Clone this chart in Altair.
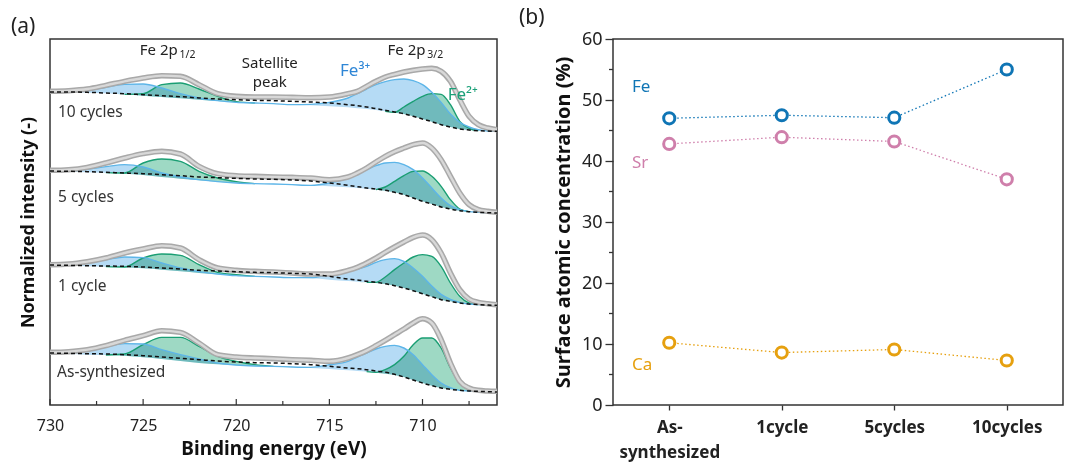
import altair as alt
import pandas as pd

# ---------------- Panel (a): Fe 2p XPS spectra ----------------
ENERGY = [730, 729, 728, 727, 726, 725, 724, 723, 722, 721, 720, 719, 718, 717, 716, 715, 714,
          713.5, 713, 712.5, 712, 711.5, 711, 710.5, 710, 709.5, 709, 708.5, 708, 707.5, 707, 706.5, 706]
SPECTRA = ["10 cycles", "5 cycles", "1 cycle", "As-synthesized"]
OFFSET = [821, 576, 299, 39]  # vertical stacking offset (a.u.)

ENVELOPE = [
    [120, 122, 127, 138, 150, 160, 167, 165, 140, 113, 105, 103, 103, 102, 101, 103, 113,
     120, 135, 150, 163, 171, 178, 183, 187, 189, 180, 150, 95, 45, 20, 10, 5],
    [128, 130, 137, 150, 165, 178, 185, 177, 140, 118, 112, 110, 108, 107, 105, 100, 108,
     120, 135, 153, 170, 184, 195, 205, 210, 195, 160, 110, 60, 25, 10, 5, 2],
    [122, 124, 131, 142, 157, 169, 179, 172, 137, 112, 105, 102, 100, 97, 94, 94, 105,
     114, 127, 142, 159, 175, 190, 204, 211, 197, 157, 97, 47, 19, 9, 5, 2],
    [119, 121, 127, 139, 155, 169, 184, 179, 147, 112, 105, 102, 100, 97, 95, 92, 102,
     112, 124, 139, 155, 172, 189, 207, 220, 207, 157, 87, 32, 12, 5, 3, 2],
]
BACKGROUND = [
    [118, 118, 117, 115, 113, 110, 107, 104, 100, 97, 95, 93, 92, 90, 88, 85, 80,
     77, 73, 68, 63, 58, 53, 45, 37, 29, 20, 13, 7, 4, 2, 1, 0],
    [126, 125, 124, 122, 120, 118, 115, 112, 108, 106, 104, 102, 101, 99, 96, 90, 83,
     79, 75, 72, 68, 62, 55, 45, 35, 27, 18, 12, 7, 4, 2, 1, 0],
    [121, 120, 119, 118, 117, 115, 112, 109, 105, 103, 101, 99, 98, 96, 94, 87, 79,
     76, 72, 69, 65, 59, 52, 44, 35, 26, 17, 12, 7, 4, 2, 1, 0],
    [117, 116, 115, 114, 112, 109, 105, 101, 97, 93, 90, 88, 87, 85, 82, 77, 72,
     70, 67, 63, 59, 53, 45, 36, 27, 19, 12, 8, 5, 3, 2, 1, 0],
]
BASELINE = [
    [117, 117, 116, 114, 111, 107, 103, 99, 95, 91, 87, 85, 83, 80, 78, 75, 72,
     69, 67, 64, 60, 56, 52, 45, 37, 29, 20, 13, 7, 4, 2, 1, 0],
    [125, 124, 122, 121, 118, 114, 108, 103, 98, 94, 90, 88, 87, 85, 83, 80, 77,
     75, 73, 70, 67, 62, 55, 45, 35, 27, 18, 12, 7, 4, 2, 1, 0],
    [120, 119, 117, 116, 114, 111, 107, 102, 97, 93, 89, 87, 85, 83, 81, 77, 73,
     71, 69, 67, 64, 59, 52, 44, 35, 26, 17, 12, 7, 4, 2, 1, 0],
    [115, 114, 112, 111, 109, 104, 99, 93, 87, 83, 80, 78, 77, 75, 72, 69, 65,
     63, 61, 58, 55, 51, 45, 36, 27, 19, 12, 8, 5, 3, 2, 1, 0],
]
FE3 = [
    [0, 2, 7, 18, 30, 35, 27, 14, 5, 1, 0, 0, 0, 0, 3, 12, 28,
     44, 60, 76, 89, 99, 105, 107, 103, 88, 67, 39, 20, 9, 3, 0, 0],
    [0, 3, 10, 18, 27, 24, 12, 5, 2, 0, 0, 0, 0, 0, 0, 10, 28,
     43, 57, 72, 83, 90, 90, 85, 70, 48, 27, 10, 3, 0, 0, 0, 0],
    [0, 5, 12, 21, 31, 32, 20, 10, 4, 1, 0, 0, 0, 0, 2, 15, 29,
     38, 48, 62, 73, 81, 80, 68, 52, 32, 16, 6, 2, 0, 0, 0, 0],
    [0, 6, 13, 24, 36, 40, 28, 19, 12, 4, 1, 0, 0, 0, 2, 13, 27,
     42, 56, 71, 82, 89, 87, 76, 55, 33, 15, 5, 0, 0, 0, 0, 0],
]
FE2 = [
    [0, 0, 0, 0, 0, 6, 37, 46, 32, 14, 2, 0, 0, 0, 0, 0, 0,
     0, 0, 0, 0, 1, 21, 45, 68, 84, 91, 67, 23, 5, 0, 0, 0],
    [0, 0, 0, 0, 2, 36, 54, 52, 27, 11, 4, 0, 0, 0, 0, 0, 0,
     0, 0, 0, 11, 33, 57, 80, 91, 83, 62, 28, 5, 0, 0, 0, 0],
    [0, 0, 0, 0, 1, 31, 47, 48, 25, 6, 3, 0, 0, 0, 0, 0, 0,
     0, 0, 2, 21, 48, 75, 101, 117, 121, 100, 55, 20, 3, 0, 0, 0],
    [0, 0, 0, 0, 5, 38, 65, 71, 50, 24, 12, 4, 0, 0, 0, 0, 0,
     0, 0, 1, 12, 31, 62, 106, 135, 143, 120, 64, 22, 4, 0, 0, 0],
]
MAJOR_TICKS = [730, 725, 720, 715, 710]
MINOR_TICKS = [727.5, 722.5, 717.5, 712.5, 707.5]

rows, green_rows = [], []
for s, name in enumerate(SPECTRA):
    off = OFFSET[s]
    n = len(ENERGY)
    for i, e in enumerate(ENERGY):
        base = off + BASELINE[s][i]
        rows.append({
            "E": e, "spec": name,
            "env": off + ENVELOPE[s][i],
            "bg": off + BACKGROUND[s][i],
            "base": base,
            "fe3": base + FE3[s][i],
            "fe2": base + FE2[s][i],
        })
        near = FE2[s][i] > 0 or (i > 0 and FE2[s][i - 1] > 0) or (i < n - 1 and FE2[s][i + 1] > 0)
        if near:
            green_rows.append({"E": e, "seg": name + ("_a" if e > 717 else "_b"),
                               "fe2": base + FE2[s][i]})
df = pd.DataFrame(rows)
dg = pd.DataFrame(green_rows)

FONT = "Noto Sans"
TXT = "#222222"

xs = alt.Scale(domain=[706, 730], reverse=True, nice=False, zero=False)
ys = alt.Scale(domain=[0, 1098], nice=False, zero=False)
xax = alt.Axis(values=MAJOR_TICKS, ticks=False, domain=False, grid=False, labelFontSize=16,
               labelColor=TXT, labelPadding=12, labelFlush=False, titleFontSize=19,
               titleFontWeight="bold", titleColor="#111111", titlePadding=6, format="d")
yax = alt.Axis(labels=False, ticks=False, domain=False, grid=False, titleFontSize=18,
               titleFontWeight="bold", titleColor="#111111", titlePadding=13)


def X(f="E:Q"):
    return alt.X(f, scale=xs, axis=xax, title="Binding energy (eV)")


def Y(f):
    return alt.Y(f, scale=ys, axis=yax, title="Normalized intensity (-)")


base_a = alt.Chart(df)
fe3_area = base_a.mark_area(color="#b5dbf5", interpolate="monotone", blend="multiply").encode(
    x=X(), y=Y("fe3:Q"), y2="base:Q", detail="spec:N")
fe2_area = base_a.mark_area(color="#9ed9c4", interpolate="monotone", blend="multiply").encode(
    x=X(), y=Y("fe2:Q"), y2="base:Q", detail="spec:N")
fe2_line = alt.Chart(dg).mark_line(color="#1a9e73", strokeWidth=1.4, interpolate="monotone").encode(
    x=X(), y=Y("fe2:Q"), detail="seg:N")
fe3_line = base_a.mark_line(color="#5db5e8", strokeWidth=1.4, interpolate="monotone").encode(
    x=X(), y=Y("fe3:Q"), detail="spec:N")
env_out = base_a.mark_line(color="#a9a9a9", strokeWidth=5.5, interpolate="monotone").encode(
    x=X(), y=Y("env:Q"), detail="spec:N")
env_in = base_a.mark_line(color="#d8d8d8", strokeWidth=2.4, interpolate="monotone").encode(
    x=X(), y=Y("env:Q"), detail="spec:N")
bg_line = base_a.mark_line(color="#111111", strokeWidth=1.5, strokeDash=[4, 3],
                           interpolate="monotone").encode(x=X(), y=Y("bg:Q"), detail="spec:N")

# spectrum labels
lab_df = pd.DataFrame({"t": SPECTRA, "E": [729.57, 729.57, 729.57, 729.62], "v": [879, 624, 357, 99]})
spec_lab = alt.Chart(lab_df).mark_text(align="left", baseline="middle", fontSize=15.5, color="#333333",
                                       font=FONT).encode(x=X(), y=Y("v:Q"), text="t:N")

ann_c = pd.DataFrame({"t": ["Satellite", "peak"], "E": [718.2, 718.2], "v": [1026, 969]})
ann_center = alt.Chart(ann_c).mark_text(align="center", baseline="middle", fontSize=15, color=TXT,
                                        font=FONT).encode(x=X(), y=Y("v:Q"), text="t:N")
ann_r = pd.DataFrame({"t": ["Fe 2p", "Fe 2p"], "E": [723.14, 709.84], "v": [1065, 1065]})
ann_right = alt.Chart(ann_r).mark_text(align="right", baseline="middle", fontSize=15, color=TXT,
                                       font=FONT).encode(x=X(), y=Y("v:Q"), text="t:N")
ann_s = pd.DataFrame({"t": ["1/2", "3/2"], "E": [723.1, 709.8], "v": [1050, 1050]})
ann_sub = alt.Chart(ann_s).mark_text(align="left", baseline="middle", fontSize=10.5, color=TXT,
                                     font=FONT, dx=1).encode(x=X(), y=Y("v:Q"), text="t:N")
ann_f3 = alt.Chart(pd.DataFrame({"t": ["Fe³⁺"], "E": [713.62], "v": [1002]})).mark_text(
    align="center", baseline="middle", fontSize=17, font=FONT, color="#2e86d6").encode(
    x=X(), y=Y("v:Q"), text="t:N")
ann_f2 = alt.Chart(pd.DataFrame({"t": ["Fe²⁺"], "E": [707.84], "v": [930]})).mark_text(
    align="center", baseline="middle", fontSize=17, font=FONT, color="#1aa078").encode(
    x=X(), y=Y("v:Q"), text="t:N")

tick_df = pd.DataFrame({"E": MAJOR_TICKS + MINOR_TICKS, "k": ["M"] * 5 + ["m"] * 5})
ticks_major = alt.Chart(tick_df[tick_df.k == "M"]).mark_rule(color="#333333", strokeWidth=1.2).encode(
    x=X(), y=alt.value(366), y2=alt.value(360))
ticks_minor = alt.Chart(tick_df[tick_df.k == "m"]).mark_rule(color="#333333", strokeWidth=1.2).encode(
    x=X(), y=alt.value(366), y2=alt.value(362))

panel_a = alt.layer(
    fe3_area, fe2_area, fe2_line, fe3_line, env_out, env_in, bg_line,
    spec_lab, ann_center, ann_right, ann_sub, ann_f3, ann_f2, ticks_major, ticks_minor
).properties(
    width=447, height=366,
    title=alt.TitleParams("(a)", anchor="start", frame="group", dx=-39, fontSize=21,
                          fontWeight="normal", color=TXT, offset=2, font=FONT),
)

# ---------------- Panel (b): surface atomic concentration ----------------
SAMPLES = ["As-synthesized", "1cycle", "5cycles", "10cycles"]
ELEMENTS = ["Fe", "Sr", "Ca"]
FE_CONC = [47.0, 47.5, 47.1, 55.0]
SR_CONC = [42.8, 43.9, 43.2, 37.0]
CA_CONC = [10.2, 8.6, 9.1, 7.3]
LABEL_POS = [52.2, 39.7, 6.5]
COLORS = ["#0f75b5", "#cf7fab", "#e6a00f"]
Y_MINOR = [5, 15, 25, 35, 45, 55]

conc_rows = []
for el, vals in zip(ELEMENTS, [FE_CONC, SR_CONC, CA_CONC]):
    for smp, v in zip(SAMPLES, vals):
        conc_rows.append({"sample": smp, "element": el, "conc": v})
dc = pd.DataFrame(conc_rows)

cscale = alt.Scale(domain=ELEMENTS, range=COLORS)
ysb = alt.Scale(domain=[0, 60], nice=False, zero=True)
yaxb = alt.Axis(values=list(range(0, 61, 10)), tickSize=8, tickColor="#333333", tickWidth=1.3,
                domain=False, grid=False, labelFontSize=18, labelColor=TXT, labelPadding=3,
                titleFontSize=20, titleFontWeight="bold", titleColor="#111111", titlePadding=8)
xaxb = alt.Axis(tickSize=5, tickColor="#333333", tickWidth=1.3, domain=False, grid=False,
                labelFontSize=17, labelFontWeight="bold", labelColor=TXT, labelPadding=9,
                labelLineHeight=25, labelAngle=0,
                labelExpr="datum.value == 'As-synthesized' ? ['As-', 'synthesized'] : datum.value")


def XB():
    return alt.X("sample:N", sort=SAMPLES, scale=alt.Scale(type="point", padding=0.5), axis=xaxb,
                 title=None)


def YB(f="conc:Q"):
    return alt.Y(f, scale=ysb, axis=yaxb, title="Surface atomic concentration (%)")


lines_b = alt.Chart(dc).mark_line(strokeWidth=1.3, strokeDash=[1.5, 2.5]).encode(
    x=XB(), y=YB(), color=alt.Color("element:N", scale=cscale, legend=None))
points_b = alt.Chart(dc).mark_point(shape="circle", filled=True, fill="white", fillOpacity=1,
                                    strokeWidth=3, size=125, opacity=1).encode(
    x=XB(), y=YB(), stroke=alt.Stroke("element:N", scale=cscale, legend=None))
lab_b = alt.Chart(pd.DataFrame({"element": ELEMENTS, "pos": LABEL_POS})).mark_text(
    align="left", baseline="middle", fontSize=17, font=FONT).encode(
    x=alt.value(19), y=YB("pos:Q"), text="element:N",
    color=alt.Color("element:N", scale=cscale, legend=None))
minor_b = alt.Chart(pd.DataFrame({"t": Y_MINOR})).mark_rule(color="#333333", strokeWidth=1.3).encode(
    y=YB("t:Q"), x=alt.value(-4), x2=alt.value(0))

panel_b = alt.layer(lines_b, points_b, lab_b, minor_b).properties(
    width=450, height=366,
    title=alt.TitleParams("(b)", anchor="start", frame="group", dx=-94, fontSize=21,
                          fontWeight="normal", color=TXT, offset=2, font=FONT),
)

chart = alt.hconcat(panel_a, panel_b, spacing=9).resolve_scale(
    color="independent", stroke="independent"
).properties(
    padding={"left": 10, "top": 6, "right": 2, "bottom": 2}
).configure(font=FONT).configure_view(stroke="#333333", strokeWidth=1.5).configure_axis(
    labelFont=FONT, titleFont=FONT)

chart.save("out.html", embed_options={"renderer": "svg", "actions": False})
